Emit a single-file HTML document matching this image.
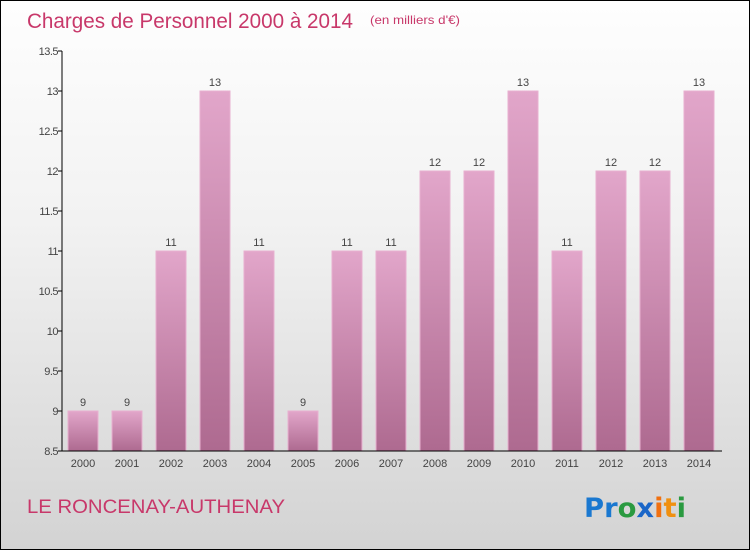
<!DOCTYPE html>
<html><head><meta charset="utf-8"><style>
body{margin:0}
#c{position:relative;width:748px;height:548px;border:1px solid #000;background:linear-gradient(#fefefe,#f2f2f2 40%,#d3d3d3);font-family:"Liberation Sans",sans-serif;overflow:hidden}
</style></head><body>
<div id="c">
<svg width="748" height="548" id="svg">
<defs><linearGradient id="bg" x1="0" y1="0" x2="0" y2="1"><stop offset="0" stop-color="#e2a6ca"/><stop offset="1" stop-color="#ae6a90"/></linearGradient></defs>
<text x="26" y="27" font-size="21" fill="#c8386a" textLength="326" lengthAdjust="spacingAndGlyphs">Charges de Personnel 2000 à 2014</text>
<text x="369" y="23" font-size="12" fill="#c8386a" textLength="90" lengthAdjust="spacingAndGlyphs">(en milliers d'€)</text>
<text x="26" y="512" font-size="19" fill="#c8386a" textLength="258" lengthAdjust="spacingAndGlyphs">LE RONCENAY-AUTHENAY</text>
<g font-size="27" font-weight="bold" font-family="'DejaVu Sans',sans-serif">
<text x="583" y="516" textLength="102" lengthAdjust="spacingAndGlyphs"><tspan fill="#1a78d0">Pr</tspan><tspan fill="#2a9a40">o</tspan><tspan fill="#1a66c8">x</tspan><tspan fill="#f07010">i</tspan><tspan fill="#f09010">t</tspan><tspan fill="#2a9a40">i</tspan></text>
</g>
<g id="plot"></g>
</svg>
</div>
<script>
const categories=["2000","2001","2002","2003","2004","2005","2006","2007","2008","2009","2010","2011","2012","2013","2014"];
const values=[9,9,11,13,11,9,11,11,12,12,13,11,12,12,13];
const ticks=[8.5,9,9.5,10,10.5,11,11.5,12,12.5,13,13.5];
const yMin=8.5,yMax=13.5;
const y=v=>450-(v-yMin)/(yMax-yMin)*400;
const x=i=>82+i*44;
const g=document.getElementById('plot');
const NS='http://www.w3.org/2000/svg';
function mk(t,a){const e=document.createElementNS(NS,t);for(const k in a)e.setAttribute(k,a[k]);g.appendChild(e);return e;}
values.forEach((v,i)=>{
 const b=mk('rect',{x:x(i)-15,y:y(v),width:30,height:450-y(v),fill:'url(#bg)',stroke:'#e8b0d0','stroke-width':1});
 
 
 const l=mk('text',{x:x(i),y:y(v)-5,'text-anchor':'middle','font-size':11,fill:'#444'});l.textContent=v;
 
 
 const c=mk('text',{x:x(i),y:466,'text-anchor':'middle','font-size':11,fill:'#444'});c.textContent=categories[i];
 
 
});
ticks.forEach(t=>{
 mk('line',{x1:57,x2:61,y1:y(t),y2:y(t),stroke:'#000'});
 const l=mk('text',{x:57,y:y(t)+4,'text-anchor':'end','font-size':11,fill:'#444','letter-spacing':'-0.5'});l.textContent=t;
 
 
});
const ya=mk('line',{x1:61,x2:61,y1:50,y2:450,stroke:'#000'});


const xa=mk('line',{x1:61,x2:721,y1:450,y2:450,stroke:'#000'});


</script>
</body></html>
